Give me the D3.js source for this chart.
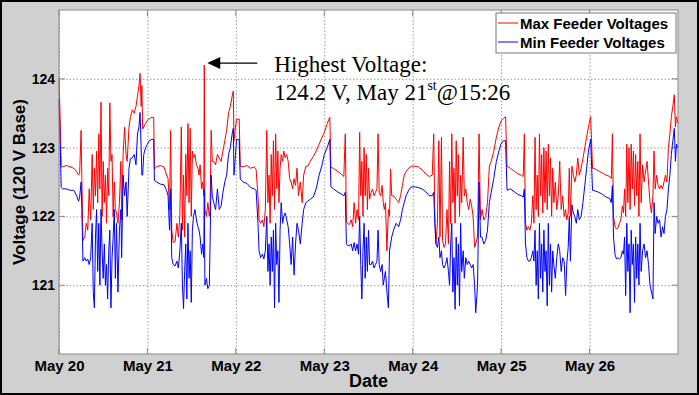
<!DOCTYPE html>
<html>
<head>
<meta charset="utf-8">
<script src="https://cdn.jsdelivr.net/npm/d3@7"></script>
<style>
  body { margin: 0; background: #fff; }
  svg { display: block; }
</style>
</head>
<body>
<div id="viz"></div>
<script>
// chart data
const dateTicks = ['2012-05-20', '2012-05-21', '2012-05-22', '2012-05-23', '2012-05-24', '2012-05-25', '2012-05-26']
const dateRange = ['2012-05-20', '2012-05-27']
const voltRange = [120, 125]
const voltTicks = [121, 122, 123, 124]
const seriesNames = ['Max Feeder Voltages', 'Min Feeder Voltages']
const seriesColors = ['#ff0000', '#0000ff']

// hours since May 20 00:00
const hours = [
  // May 20
  0.0, 0.3, 0.6, 1.0, 2.0, 3.0, 4.0, 4.8, 5.3, 5.6,
  6.0, 6.2, 6.5, 7.0, 7.4, 7.8, 8.2, 8.6, 9.0, 9.3,
  9.6, 9.9, 10.2, 10.5, 10.8, 11.1, 11.4, 11.7, 12.0, 12.3,
  12.6, 12.9, 13.2, 13.5, 13.8, 14.1, 14.4, 14.7, 15.0, 15.3,
  15.6, 16.0, 16.4, 16.8, 17.0, 17.4, 17.8, 18.2, 18.5, 19.0,
  19.4, 19.9, 20.4, 20.9, 21.3, 21.7, 22.0, 22.3, 22.5, 22.7,
  23.0, 23.5, 24.0,
  // May 21
  24.5, 25.2, 25.7, 25.9, 26.5, 27.5, 28.5, 29.2, 29.6, 30.0,
  30.3, 30.6, 31.0, 31.5, 32.0, 32.4, 32.8, 33.2, 33.5, 33.8,
  34.1, 34.4, 34.7, 35.0, 35.3, 35.6, 35.9, 36.2, 36.5, 36.9,
  37.3, 37.7, 38.0, 38.3, 38.7, 39.0, 39.3, 39.43, 39.6, 40.0,
  40.4, 40.8, 41.0, 41.3, 41.6, 42.0, 42.5, 43.0, 43.5, 44.0,
  44.5, 45.0, 45.5, 46.0, 46.5, 47.0, 47.3, 47.5, 47.9, 48.2,
  48.7,
  // May 22
  48.9, 49.2, 50.0, 51.0, 52.0, 53.0, 53.5, 54.0, 54.3, 54.7,
  55.2, 55.6, 56.0, 56.4, 56.7, 57.0, 57.3, 57.6, 57.9, 58.2,
  58.5, 58.8, 59.1, 59.4, 59.7, 60.0, 60.3, 60.7, 61.0, 61.4,
  61.8, 62.2, 62.6, 63.0, 63.4, 63.8, 64.2, 64.6, 65.0, 65.5,
  66.0, 66.4, 67.0, 67.5, 68.2, 69.0, 69.8, 70.6, 71.4, 72.0,
  72.8, 73.5, 73.8,
  // May 23
  74.5, 75.5, 76.5, 77.3, 77.7, 78.0, 78.3, 78.8, 79.3, 79.7,
  80.1, 80.5, 80.9, 81.3, 81.6, 81.9, 82.2, 82.5, 82.8, 83.1,
  83.4, 83.7, 84.0, 84.3, 84.7, 85.1, 85.5, 85.9, 86.3, 86.6,
  86.9, 87.3, 87.7, 88.0, 88.3, 88.6, 89.0, 89.4, 89.7, 90.0,
  90.3, 90.8, 91.5, 92.2, 92.7, 93.2, 93.7, 94.2, 94.9, 95.6,
  // May 24
  96.5, 97.5, 98.5, 99.5, 100.5, 101.3, 101.7, 102.0, 102.3, 102.7,
  103.1, 103.4, 103.8, 104.1, 104.5, 104.9, 105.3, 105.7, 106.0, 106.3,
  106.6, 106.9, 107.2, 107.5, 107.8, 108.1, 108.4, 108.7, 109.0, 109.3,
  109.7, 110.0, 110.4, 110.8, 111.2, 111.6, 112.0, 112.4, 112.8, 113.1,
  113.6, 114.0, 114.4, 114.8, 115.3, 115.8, 116.3, 116.8, 117.3, 118.0,
  118.7, 119.4, 119.9, 120.6, 121.2, 121.6,
  // May 25
  122.5, 123.5, 124.5, 125.5, 126.0, 126.3, 126.6, 127.0, 127.4, 127.8,
  128.2, 128.6, 128.9, 129.2, 129.5, 129.8, 130.1, 130.4, 130.7, 131.0,
  131.3, 131.6, 131.9, 132.2, 132.5, 132.8, 133.1, 133.4, 133.7, 134.0,
  134.3, 134.7, 135.1, 135.5, 135.9, 136.3, 136.7, 137.1, 137.5, 137.8,
  138.2, 138.5, 138.8, 139.2, 139.6, 140.0, 140.4, 140.8, 141.2, 141.7,
  142.2, 142.7, 143.2, 143.7, 144.3, 144.8,
  // May 26
  145.5, 146.5, 147.5, 148.5, 149.5, 149.9, 150.2, 150.5, 150.9, 151.3,
  151.7, 152.1, 152.5, 152.9, 153.2, 153.5, 153.8, 154.1, 154.4, 154.7,
  155.0, 155.3, 155.6, 155.9, 156.2, 156.5, 156.8, 157.1, 157.4, 157.7,
  158.0, 158.4, 158.8, 159.2, 159.6, 160.0, 160.4, 160.8, 161.2, 161.5,
  161.8, 162.2, 162.6, 163.0, 163.4, 163.8, 164.2, 164.6, 165.0, 165.4,
  165.8, 166.2, 166.6, 167.0, 167.3, 167.6, 168.0
]

const maxVolts = [
  // May 20
  124.0, 123.45, 122.72, 122.72, 122.74, 122.72, 122.7, 122.65, 122.6, 122.62,
  123.25, 122.55, 121.65, 121.7, 121.9, 121.8, 122.4, 121.95, 122.9, 122.1,
  122.7, 122.3, 122.95, 122.2, 123.2, 122.4, 123.66, 122.0, 122.8, 122.2,
  122.6, 121.9, 122.7, 122.3, 123.65, 122.8, 122.9, 122.0, 122.5, 122.1,
  122.05, 121.9, 122.2, 122.8, 121.95, 122.9, 123.3, 122.9, 122.8, 123.3,
  123.45, 123.55, 123.5, 123.6, 123.75, 123.9, 124.08, 123.6, 123.9, 123.27,
  123.3, 123.35, 123.4,
  // May 21
  123.42, 123.44, 123.44, 122.69, 122.72, 122.74, 122.72, 122.6, 122.55, 122.1,
  123.25, 121.8, 121.62, 121.63, 121.9, 121.7, 122.0, 123.3, 121.8, 122.6,
  121.7, 122.9, 122.3, 123.35, 122.2, 123.28, 122.0, 122.95, 122.85, 122.9,
  122.75, 122.7, 122.6, 122.75, 122.4, 122.5, 122.3, 124.2, 122.1, 122.0,
  122.2, 122.0, 122.1, 123.25, 122.8, 122.8, 122.75, 122.9, 122.85, 122.8,
  122.95, 123.1, 123.25, 123.5, 123.6, 123.75, 123.82, 123.1, 123.3, 123.41,
  123.41,
  // May 22
  123.42, 122.73, 122.72, 122.74, 122.7, 122.72, 122.68, 122.3, 121.95, 121.9,
  121.95, 121.85, 122.1, 123.25, 122.2, 122.6, 121.9, 122.9, 122.3, 123.1,
  122.1, 123.2, 122.4, 122.95, 122.2, 122.7, 122.9, 122.8, 122.95, 122.85,
  122.9, 122.8, 122.55, 122.5, 122.4, 122.55, 122.45, 122.7, 122.3, 122.5,
  122.2, 122.6, 122.73, 122.73, 122.8, 122.87, 122.95, 123.05, 123.15, 123.22,
  123.35, 123.44, 122.71,
  // May 23
  122.7, 122.66, 122.62, 122.58, 123.2, 121.93, 121.9, 121.88, 121.95, 121.85,
  122.2, 121.9, 122.1, 121.95, 123.22, 122.3, 122.8, 122.0, 123.0, 122.3,
  122.9, 122.1, 122.7, 122.25, 122.35, 122.4, 122.3, 122.35, 122.4, 123.2,
  122.35, 122.3, 122.45, 122.2, 122.1, 122.2, 121.5, 122.1, 122.0, 122.69,
  122.3, 122.3, 122.25, 122.2, 122.3, 122.45, 122.6, 122.65, 122.7, 122.73,
  // May 24
  122.73, 122.72, 122.68, 122.62, 122.58, 122.6, 123.2, 122.0, 121.6, 121.9,
  123.1, 121.7, 123.15, 121.65, 121.55, 121.6, 122.1, 121.6, 122.8, 121.9,
  123.2, 122.2, 122.7, 121.9, 123.1, 122.3, 122.9, 122.0, 122.6, 122.2,
  123.15, 122.3, 122.4, 122.2, 122.1, 122.25, 122.15, 122.0, 121.55, 121.6,
  121.7, 123.2, 121.95, 122.1, 121.95, 122.0, 122.2, 122.73, 122.8, 122.95,
  123.15, 123.3, 123.38, 123.42, 123.45, 122.73,
  // May 25
  122.7, 122.66, 122.62, 122.6, 122.58, 123.2, 121.9, 121.8, 121.85, 121.8,
  121.9, 122.3, 121.9, 123.15, 122.1, 122.6, 122.0, 123.2, 122.3, 122.9,
  122.05, 123.0, 122.2, 122.95, 122.1, 123.05, 122.3, 122.85, 122.0, 122.7,
  122.2, 122.5, 122.1, 122.3, 122.8, 122.1, 122.3, 122.0, 122.1, 121.95,
  122.05, 122.7, 122.0, 122.73, 122.6, 122.5, 122.6, 122.85, 122.6, 122.7,
  122.84, 123.0, 123.15, 123.3, 123.45, 122.7,
  // May 26
  122.69, 122.66, 122.63, 122.6, 122.58, 122.55, 123.2, 122.0, 121.85, 121.82,
  121.83, 121.9, 121.95, 122.15, 122.05, 122.4, 122.0, 123.05, 122.2, 123.0,
  122.1, 123.05, 122.4, 122.95, 122.15, 122.9, 122.3, 122.8, 122.0, 123.2,
  122.2, 122.75, 122.5, 122.65, 122.8, 122.5, 122.2, 122.05, 122.3, 122.95,
  122.4, 122.6, 122.45, 122.4, 122.45, 122.4, 122.5, 122.6, 122.5, 123.0,
  123.2, 123.45, 123.6, 123.77, 123.3, 123.45, 123.35
]

const minVolts = [
  // May 20
  123.7, 123.1, 122.42, 122.4, 122.4, 122.38, 122.38, 122.3, 122.22, 122.28,
  122.5, 122.1, 121.35, 121.4, 121.35, 121.38, 121.3, 121.4, 121.9, 120.9,
  120.67, 121.7, 122.1, 121.2, 121.9, 121.0, 122.1, 121.5, 121.1, 121.6,
  121.0, 121.3, 120.8, 121.5, 121.8, 120.67, 121.4, 121.7, 122.1, 121.1,
  121.9, 120.9, 121.8, 122.1, 121.4, 122.6, 122.3, 122.5, 122.0, 122.7,
  122.84, 122.85, 122.9, 122.75, 123.2, 123.3, 123.51, 123.0, 122.6, 122.6,
  122.9, 123.0, 123.05,
  // May 21
  123.1, 123.12, 123.12, 122.52, 122.5, 122.47, 122.46, 122.38, 122.3, 121.8,
  122.4, 121.4, 121.3, 121.28, 121.35, 121.25, 121.5, 121.9, 121.0, 120.66,
  121.2, 121.6, 120.8, 121.9, 121.1, 121.5, 120.75, 121.8, 122.0, 122.1,
  121.95, 121.85, 121.8, 121.7, 121.45, 121.6, 121.4, 122.4, 121.0, 121.1,
  120.95, 121.0, 121.6, 122.6, 122.3, 122.2, 122.1, 122.4, 122.1, 122.15,
  122.35, 122.5, 122.6, 122.9, 123.0, 123.2, 123.28, 122.6, 122.9, 123.12,
  123.12,
  // May 22
  123.12, 122.54, 122.5, 122.48, 122.42, 122.4, 122.38, 121.9, 121.5, 121.4,
  121.45, 121.38, 121.5, 122.0, 121.2, 121.6, 121.0, 121.7, 121.2, 121.8,
  120.67, 121.9, 121.3, 121.5, 120.75, 121.8, 122.2, 121.9, 122.0, 122.05,
  121.95, 121.85, 121.6, 121.3, 121.7, 121.15, 121.6, 121.9, 121.8, 121.6,
  121.9, 122.1, 122.2, 122.22, 122.25, 122.28, 122.4, 122.6, 122.75, 122.9,
  123.0, 123.12, 122.43,
  // May 23
  122.4, 122.36, 122.33, 122.3, 122.35, 121.6, 121.58, 121.57, 121.6, 121.5,
  121.62, 121.5, 121.6, 121.45, 122.0, 121.3, 120.8, 121.5, 121.9, 121.1,
  121.7, 121.2, 121.8, 121.3, 121.3, 121.35, 121.25, 121.3, 121.35, 121.8,
  121.3, 121.2, 121.3, 121.0, 121.1, 121.2, 120.9, 120.67, 121.5, 121.6,
  121.7, 121.8, 121.9, 121.85, 121.95, 122.1, 122.2, 122.3, 122.38, 122.43,
  // May 24
  122.43, 122.42, 122.4, 122.36, 122.3, 122.3, 122.35, 121.9, 121.6, 121.55,
  121.7, 121.4, 121.5, 121.3, 121.25, 121.3, 121.4, 121.2, 121.0, 121.6,
  121.9, 120.9, 121.4, 120.65, 121.7, 121.0, 121.6, 120.7, 121.9, 121.2,
  121.5, 121.1, 121.4, 121.3, 121.35, 121.3, 121.25, 121.3, 121.0, 120.6,
  121.0, 122.5, 121.7, 121.7, 121.6, 121.65, 121.8, 122.2, 122.35, 122.55,
  122.8, 122.95, 123.05, 123.1, 123.1, 122.38,
  // May 25
  122.4, 122.36, 122.32, 122.3, 122.28, 122.4, 121.6, 121.4, 121.35, 121.35,
  121.4, 121.5, 121.35, 121.8, 121.0, 121.5, 120.8, 121.9, 121.1, 121.6,
  120.9, 121.8, 121.2, 121.5, 120.7, 121.9, 121.0, 121.6, 120.9, 121.5,
  121.3, 121.1, 121.4, 121.6, 121.5, 121.2, 121.4, 121.35, 120.85, 121.3,
  121.55, 122.0, 121.35, 122.17, 122.05, 122.0, 121.9, 122.1, 121.95, 122.0,
  122.2, 122.45, 122.7, 122.95, 123.12, 122.38,
  // May 26
  122.37, 122.35, 122.32, 122.28, 122.26, 122.2, 122.45, 121.7, 121.45, 121.38,
  121.4, 121.38, 121.4, 121.5, 121.45, 121.7, 120.85, 121.9, 121.2, 121.6,
  120.6, 121.8, 121.3, 121.6, 120.75, 121.7, 121.1, 121.6, 121.0, 121.9,
  121.2, 121.5, 121.6, 121.4, 121.5, 121.3, 121.0, 120.9, 120.8, 122.2,
  121.75, 122.0, 121.9, 121.95, 121.7, 121.85, 121.75, 122.0, 122.1, 122.4,
  122.6, 122.9, 123.1, 123.28, 122.8, 123.05, 123.0
]

// highest voltage point (May 21 15:26)
const peakHour = 39.43
const peakVolts = 124.2

if (hours.length !== maxVolts.length || hours.length !== minVolts.length) {
  console.error('length mismatch', hours.length, maxVolts.length, minVolts.length)
}

var W = 699, H = 395
var margin = { top: 10, right: 21, bottom: 41, left: 59 },
  width = W - margin.left - margin.right,
  height = H - margin.top - margin.bottom

var parseDate = d3.timeParse('%Y-%m-%d')
var start = parseDate(dateRange[0])
function toDate(h) { return new Date(start.getTime() + h * 3600e3) }

var svg = d3.select('#viz')
  .append('svg')
  .attr('width', W)
  .attr('height', H)

// figure background + frame
svg.append('rect')
  .attr('x', 1).attr('y', 1)
  .attr('width', W - 2).attr('height', H - 2)
  .attr('fill', '#d0d0d0')
  .attr('stroke', '#000')
  .attr('stroke-width', 2)

var g = svg.append('g')
  .attr('transform', 'translate(' + margin.left + ',' + margin.top + ')')

g.append('rect')
  .attr('width', width).attr('height', height)
  .attr('fill', '#fff')

var x = d3.scaleTime()
  .domain(dateRange.map(parseDate))
  .range([0, width])

var y = d3.scaleLinear()
  .domain(voltRange)
  .range([height, 0])

var tickDates = dateTicks.map(parseDate)

// x axis with grid
var xAxis = g.append('g')
  .attr('transform', 'translate(0,' + height + ')')
  .call(d3.axisBottom(x)
    .tickValues(tickDates)
    .tickFormat(d3.timeFormat('%b %d'))
    .tickSize(-height)
    .tickPadding(6))
xAxis.select('.domain').remove()
xAxis.selectAll('.tick line')
  .attr('stroke', '#999')
  .attr('stroke-dasharray', '1.5,2')
xAxis.selectAll('.tick text')
  .attr('font-family', 'Liberation Sans, Arial, sans-serif')
  .attr('font-weight', 'bold')
  .attr('font-size', 15)
  .attr('fill', '#000')

// y axis with grid
var yAxis = g.append('g')
  .call(d3.axisLeft(y)
    .tickValues(voltTicks)
    .tickFormat(d3.format('d'))
    .tickSize(-width)
    .tickPadding(4))
yAxis.select('.domain').remove()
yAxis.selectAll('.tick line')
  .attr('stroke', '#999')
  .attr('stroke-dasharray', '1.5,2')
yAxis.selectAll('.tick text')
  .attr('font-family', 'Liberation Sans, Arial, sans-serif')
  .attr('font-weight', 'bold')
  .attr('font-size', 14)
  .attr('fill', '#000')

// small inward tick marks on all four sides
var tk = 6
g.selectAll('xtickb').data(tickDates).enter().append('line')
  .attr('x1', d => x(d)).attr('x2', d => x(d))
  .attr('y1', height).attr('y2', height - tk)
  .attr('stroke', '#888')
g.selectAll('xtickt').data(tickDates).enter().append('line')
  .attr('x1', d => x(d)).attr('x2', d => x(d))
  .attr('y1', 0).attr('y2', tk)
  .attr('stroke', '#888')
g.selectAll('ytickl').data(voltTicks).enter().append('line')
  .attr('x1', 0).attr('x2', tk)
  .attr('y1', d => y(d)).attr('y2', d => y(d))
  .attr('stroke', '#888')
g.selectAll('ytickr').data(voltTicks).enter().append('line')
  .attr('x1', width).attr('x2', width - tk)
  .attr('y1', d => y(d)).attr('y2', d => y(d))
  .attr('stroke', '#888')

// the two voltage series, max first so min sits on top
var series = [maxVolts, minVolts]
var line = d3.line()
  .x(function(d, i) { return x(toDate(hours[i])) })
  .y(function(d) { return y(d) })

g.selectAll('myseries')
  .data(series)
  .enter()
  .append('path')
  .attr('d', d => line(d))
  .attr('fill', 'none')
  .attr('stroke', (d, i) => seriesColors[i])
  .attr('stroke-width', 1)
  .attr('stroke-linejoin', 'round')

// axes box
g.append('rect')
  .attr('width', width).attr('height', height)
  .attr('fill', 'none')
  .attr('stroke', '#8a8a8a')
  .attr('stroke-width', 1)

// annotation for the peak
var px = x(toDate(peakHour)), py = y(peakVolts)
g.append('line')
  .attr('x1', px + 53).attr('y1', py - 2)
  .attr('x2', px + 14).attr('y2', py - 2)
  .attr('stroke', '#000').attr('stroke-width', 1.2)
g.append('path')
  .attr('d', 'M' + (px + 3) + ',' + (py - 2) + 'L' + (px + 16) + ',' + (py - 8) + 'L' + (px + 16) + ',' + (py + 4) + 'Z')
  .attr('fill', '#000')

var note = g.append('text')
  .attr('font-family', 'Liberation Serif, Times New Roman, serif')
  .attr('font-size', 23)
  .attr('fill', '#000')
note.append('tspan')
  .attr('x', px + 70).attr('y', py + 7)
  .text('Highest Voltage:')
var l2 = note.append('tspan')
  .attr('x', px + 70).attr('y', py + 35)
l2.append('tspan').text('124.2 V, May 21')
l2.append('tspan').attr('font-size', 14).attr('dy', -10).text('st')
l2.append('tspan').attr('dy', 10).text('@15:26')

// legend
var lg = svg.append('g').attr('transform', 'translate(496,13)')
lg.append('rect')
  .attr('width', 180).attr('height', 40)
  .attr('fill', '#fff')
  .attr('stroke', '#777')
seriesNames.forEach(function(name, i) {
  var ly = 10 + i * 19
  lg.append('line')
    .attr('x1', 2).attr('x2', 22)
    .attr('y1', ly).attr('y2', ly)
    .attr('stroke', seriesColors[i])
  lg.append('text')
    .attr('x', 24).attr('y', ly + 5.5)
    .attr('font-family', 'Liberation Sans, Arial, sans-serif')
    .attr('font-weight', 'bold')
    .attr('font-size', 15)
    .text(name)
})

// axis titles
svg.append('text')
  .attr('x', margin.left + width / 2)
  .attr('y', 387)
  .attr('text-anchor', 'middle')
  .attr('font-family', 'Liberation Sans, Arial, sans-serif')
  .attr('font-weight', 'bold')
  .attr('font-size', 18)
  .text('Date')

svg.append('text')
  .attr('transform', 'translate(25,' + (margin.top + height / 2) + ')rotate(-90)')
  .attr('text-anchor', 'middle')
  .attr('font-family', 'Liberation Sans, Arial, sans-serif')
  .attr('font-weight', 'bold')
  .attr('font-size', 17)
  .text('Voltage (120 V Base)')
</script>
</body>
</html>
